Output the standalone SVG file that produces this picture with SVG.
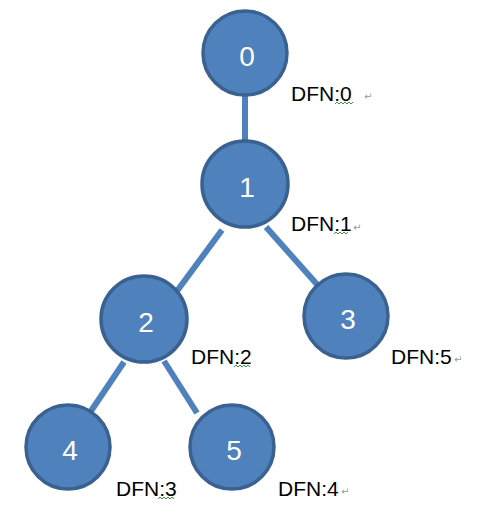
<svg xmlns="http://www.w3.org/2000/svg" width="487" height="510" viewBox="0 0 487 510">
<style>
.node circle{fill:#4F81BD;stroke:#3A6190;stroke-width:3.5}
.node text{fill:#fff;font-family:"Liberation Sans",Arial,sans-serif;font-size:28px;text-anchor:middle}
.edges line{stroke:#4F81BD;stroke-width:6}
.lbl{font-family:"Liberation Sans",Arial,sans-serif;font-size:21px;fill:#000}
.ret{font-family:"DejaVu Sans",sans-serif;font-size:10px;fill:#999}
.sq{fill:none;stroke:#3c9a3c;stroke-width:1}
</style>
<rect width="487" height="510" fill="#fff"/>
<g class="edges">
<line x1="245" y1="96" x2="245" y2="141"/>
<line x1="222" y1="230" x2="177" y2="291"/>
<line x1="266" y1="227" x2="322" y2="290"/>
<line x1="124" y1="362" x2="91" y2="411"/>
<line x1="164" y1="361" x2="197" y2="413"/>
</g>
<g id="n0" class="node"><circle cx="245" cy="53" r="42"/><text x="247" y="66">0</text></g>
<g id="n1" class="node"><circle cx="245" cy="184" r="43"/><text x="247" y="197">1</text></g>
<g id="n2" class="node"><circle cx="144" cy="319" r="43"/><text x="146" y="332">2</text></g>
<g id="n3" class="node"><circle cx="346" cy="316" r="42"/><text x="348" y="329">3</text></g>
<g id="n4" class="node"><circle cx="68" cy="447" r="42"/><text x="70" y="460">4</text></g>
<g id="n5" class="node"><circle cx="232" cy="447" r="42"/><text x="234" y="460">5</text></g>
<g id="labels">
<text class="lbl" x="291" y="101">DFN:0</text><text class="ret" x="364" y="100">↵</text>
<polyline class="sq" points="335,104 337,102 339,104 341,102 343,104 345,102 347,104 349,102 351,104 353,102"/>
<text class="lbl" x="291" y="231">DFN:1</text><text class="ret" x="353" y="231">↵</text>
<polyline class="sq" points="334,234 336,232 338,234 340,232 342,234 344,232 346,234 348,232"/>
<text class="lbl" x="191" y="364">DFN:2</text>
<polyline class="sq" points="234,367 236,365 238,367 240,365 242,367 244,365 246,367 248,365 250,367"/>
<text class="lbl" x="391" y="364">DFN:5</text><text class="ret" x="454" y="363">↵</text>
<text class="lbl" x="116" y="496">DFN:3</text>
<polyline class="sq" points="158,499 160,497 162,499 164,497 166,499 168,497 170,499 172,497 174,499"/>
<text class="lbl" x="278" y="496">DFN:4</text><text class="ret" x="341" y="495">↵</text>
</g>
</svg>
